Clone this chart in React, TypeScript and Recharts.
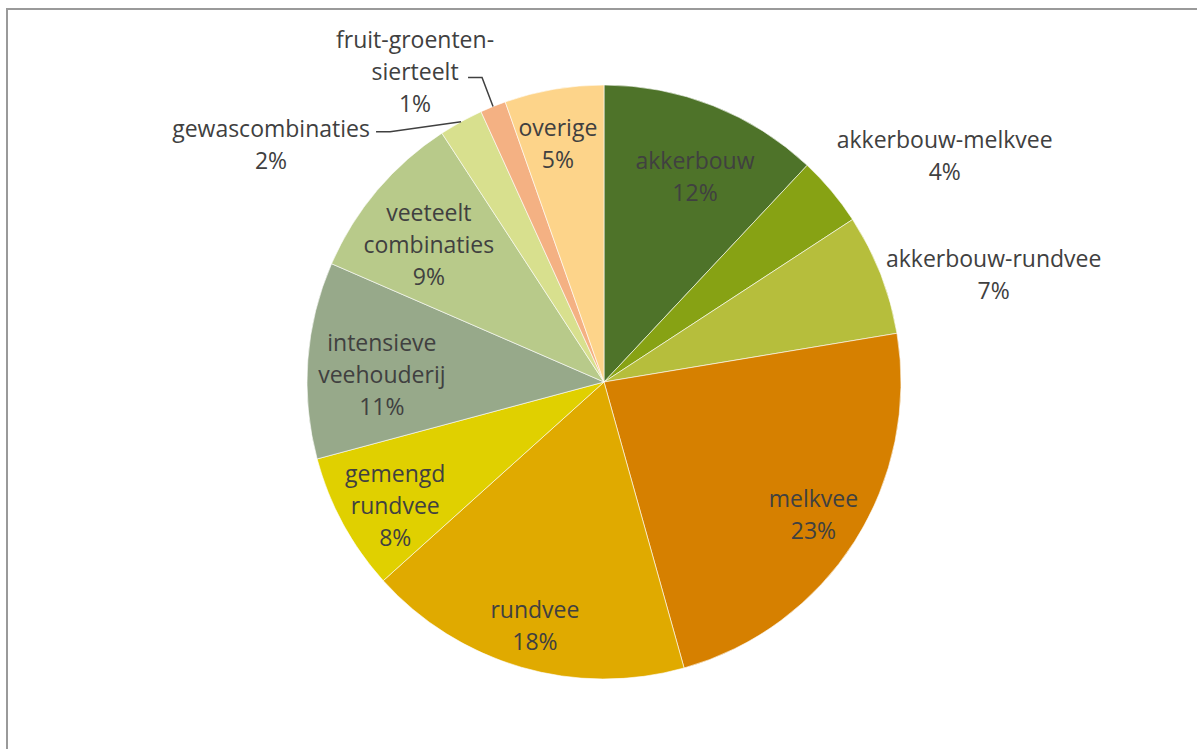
import { PieChart, Pie, Cell } from "recharts";

// Farm types and their share of the total
const categories = [
  "akkerbouw",
  "akkerbouw-melkvee",
  "akkerbouw-rundvee",
  "melkvee",
  "rundvee",
  "gemengd rundvee",
  "intensieve veehouderij",
  "veeteelt combinaties",
  "gewascombinaties",
  "fruit-groenten-sierteelt",
  "overige",
];
const shares = [12.0, 3.8, 6.6, 23.3, 17.7, 7.5, 10.7, 9.3, 2.4, 1.4, 5.4];
const shareLabels = ["12%", "4%", "7%", "23%", "18%", "8%", "11%", "9%", "2%", "1%", "5%"];

// how the category names wrap inside the labels
const wrappedNames = [
  ["akkerbouw"],
  ["akkerbouw-melkvee"],
  ["akkerbouw-rundvee"],
  ["melkvee"],
  ["rundvee"],
  ["gemengd", "rundvee"],
  ["intensieve", "veehouderij"],
  ["veeteelt", "combinaties"],
  ["gewascombinaties"],
  ["fruit-groenten-", "sierteelt"],
  ["overige"],
];

const COLORS = [
  "#4E7329",
  "#87A214",
  "#B6BE3C",
  "#D68000",
  "#E0AA00",
  "#E0D000",
  "#97A98A",
  "#B8CA8A",
  "#D8E08E",
  "#F4B183",
  "#FDD48A",
];

// label placement: radius factor + pixel nudge, optional leader elbow (relative to label centre)
const LABEL_LAYOUT: { r: number; dx: number; dy: number; leader?: number[] }[] = [
  { r: 0.76, dx: 8, dy: 4 },
  { r: 1.3, dx: 45, dy: 21 },
  { r: 1.3, dx: 30, dy: 32 },
  { r: 0.7, dx: 34, dy: 20 },
  { r: 0.75, dx: -7, dy: 29 },
  { r: 0.75, dx: -13, dy: 17 },
  { r: 0.75, dx: 0, dy: 8 },
  { r: 0.75, dx: -5, dy: 6 },
  { r: 1, dx: -190, dy: 22, leader: [105, -12, 119, -12] },
  { r: 1, dx: -78, dy: -36, leader: [53, 7, 67, 7] },
  { r: 0.8, dx: -6, dy: -5 },
];

const data = categories.map((name, i) => ({ name, value: shares[i] }));

const RADIAN = Math.PI / 180;
const LINE_H = 32;
const TEXT_COLOR = "#404040";

const renderLabel = (props: any) => {
  const { cx, cy, midAngle, outerRadius, index } = props;
  const lay = LABEL_LAYOUT[index];
  const a = -midAngle * RADIAN;
  const x = cx + outerRadius * lay.r * Math.cos(a) + lay.dx;
  const y = cy + outerRadius * lay.r * Math.sin(a) + lay.dy;
  const lines = [...wrappedNames[index], shareLabels[index]];
  const n = lines.length;

  let leader = null;
  if (lay.leader) {
    const ex = cx + outerRadius * Math.cos(a);
    const ey = cy + outerRadius * Math.sin(a);
    const l = lay.leader;
    leader = (
      <polyline
        points={`${x + l[0]},${y + l[1]} ${x + l[2]},${y + l[3]} ${ex},${ey}`}
        fill="none"
        stroke={TEXT_COLOR}
        strokeWidth={1.5}
      />
    );
  }

  return (
    <g key={`lbl-${index}`}>
      {leader}
      {lines.map((t, j) => (
        <text
          key={j}
          x={x}
          y={y + (j - (n - 1) / 2) * LINE_H}
          textAnchor="middle"
          dominantBaseline="central"
          fill={TEXT_COLOR}
          fontSize={23}
          fontFamily="'Open Sans', sans-serif"
        >
          {t}
        </text>
      ))}
    </g>
  );
};

export default function App() {
  return (
    <div
      style={{
        position: "absolute",
        left: 0,
        top: 0,
        width: 1197,
        height: 749,
        overflow: "hidden",
        background: "#fff",
      }}
    >
      {/* chart frame, only its top and left edge fall inside the picture */}
      <div
        style={{
          position: "absolute",
          left: 6,
          top: 8,
          width: 1300,
          height: 900,
          border: "2px solid #9a9a9a",
          boxSizing: "border-box",
        }}
      />
      <div style={{ position: "absolute", left: 0, top: 0 }}>
        <PieChart width={1197} height={749} margin={{ top: 0, right: 0, bottom: 0, left: 0 }}>
          <Pie
            data={data}
            dataKey="value"
            nameKey="name"
            cx={604}
            cy={382}
            outerRadius={297}
            startAngle={90}
            endAngle={-270}
            stroke="#ffffff"
            strokeWidth={0.6}
            label={renderLabel}
            labelLine={false}
            isAnimationActive={false}
          >
            {data.map((d, i) => (
              <Cell key={d.name} fill={COLORS[i]} />
            ))}
          </Pie>
        </PieChart>
      </div>
    </div>
  );
}
